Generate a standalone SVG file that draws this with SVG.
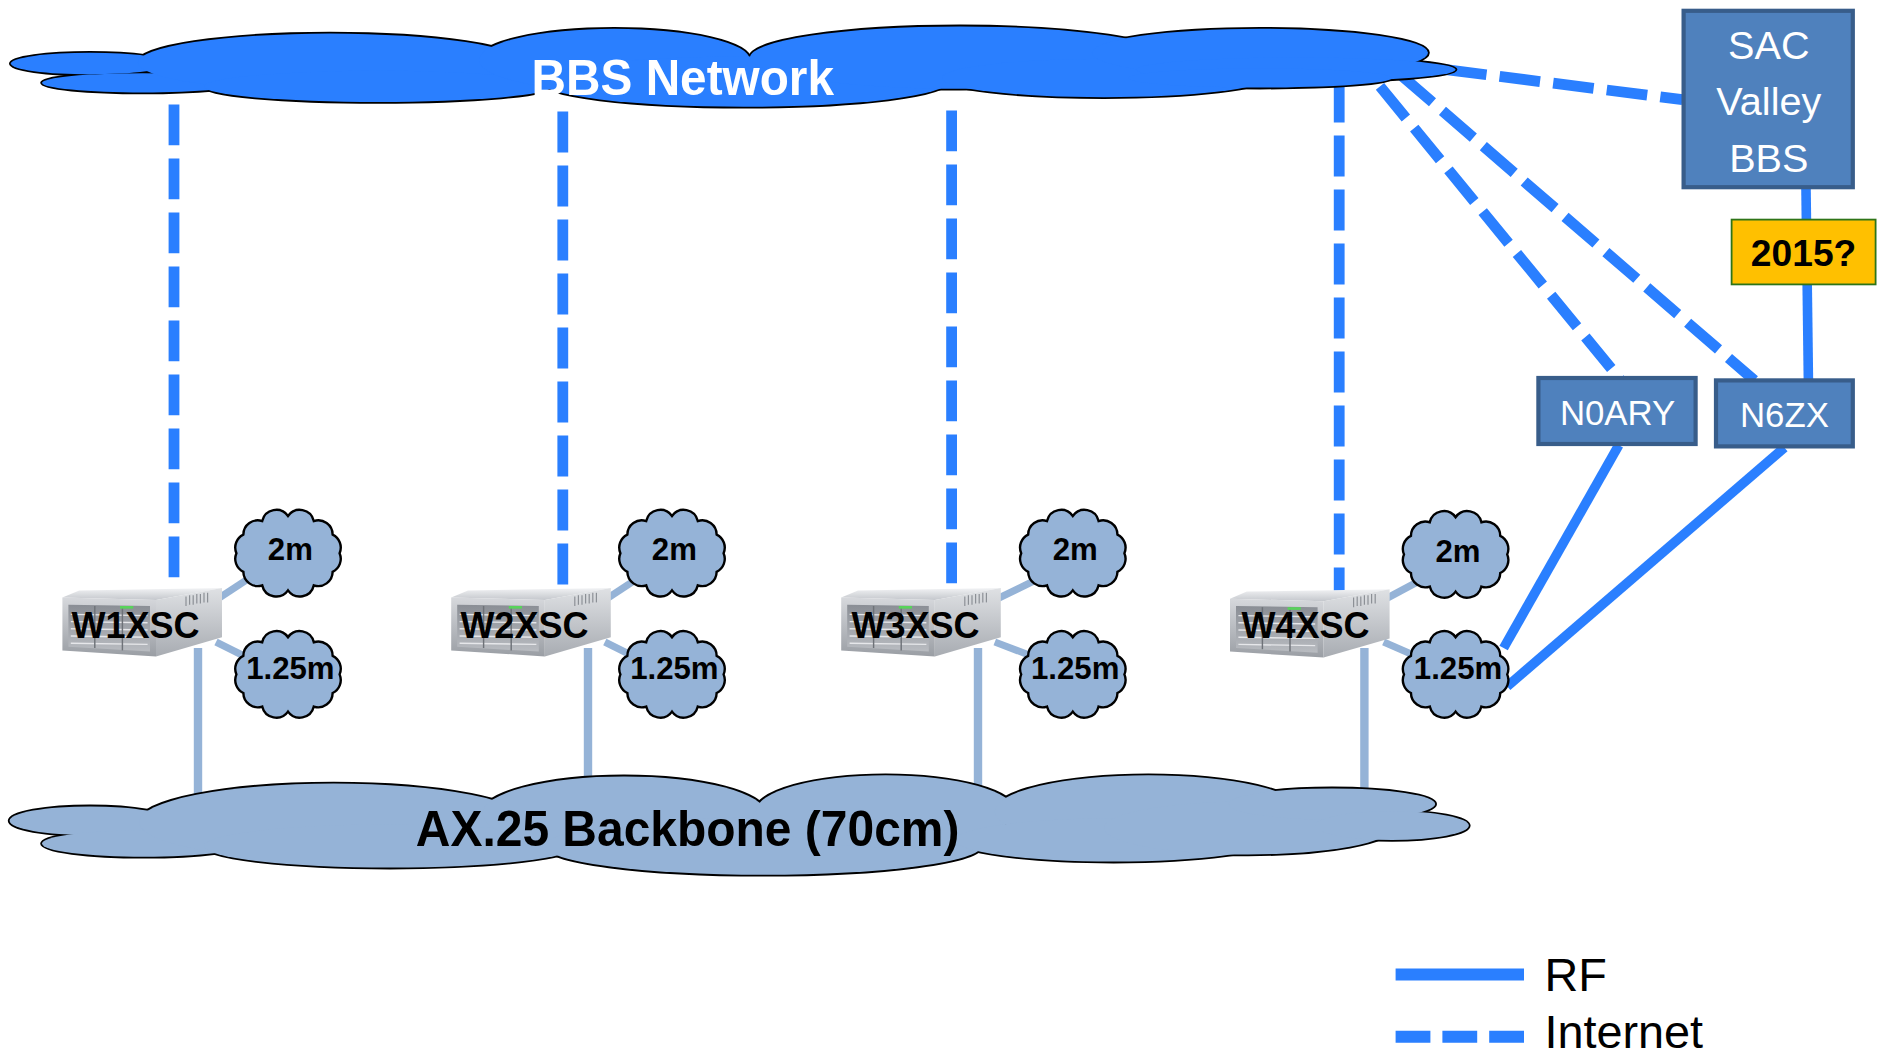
<svg xmlns="http://www.w3.org/2000/svg" xmlns:xlink="http://www.w3.org/1999/xlink" width="1881" height="1054" viewBox="0 0 1881 1054">
<style>
.inet{stroke:#2A7FFF;stroke-width:9;stroke-dasharray:34 11;fill:none}
.rf{stroke:#2A7FFF;stroke-width:8;fill:none}
.lnk{stroke:#95B3D7;stroke-width:6;fill:none}
.vlnk{stroke:#95B3D7;stroke-width:7;fill:none}
.box{fill:#4F81BD;stroke:#385D8A;stroke-width:3.5}
.boxt{font-family:"Liberation Sans",Arial,sans-serif;fill:#fff;text-anchor:middle}
.lbl{font-family:"Liberation Sans",Arial,sans-serif;font-weight:bold;fill:#000;text-anchor:middle}
.sc{fill:#95B3D7;stroke:#000;stroke-width:2}
.leg{font-family:"Liberation Sans",Arial,sans-serif;fill:#000;font-size:39px}
</style>
<defs>
<linearGradient id="gTop" x1="0" y1="0" x2="0" y2="1"><stop offset="0" stop-color="#f2f3f5"/><stop offset="1" stop-color="#c4c7cc"/></linearGradient>
<linearGradient id="gFront" x1="0" y1="0" x2="0" y2="1"><stop offset="0" stop-color="#d6d8dc"/><stop offset="1" stop-color="#9a9ea4"/></linearGradient>
<linearGradient id="gSide" x1="0" y1="0" x2="0" y2="1"><stop offset="0" stop-color="#dfe1e4"/><stop offset="1" stop-color="#a8acb2"/></linearGradient>
<linearGradient id="gBay" x1="0" y1="0" x2="0" y2="1"><stop offset="0" stop-color="#8a8e95"/><stop offset="1" stop-color="#b9bcc1"/></linearGradient>
<g id="server">
<polygon points="0,8 14,2 133,0 78,10" fill="url(#gTop)"/>
<polygon points="0,8 78,10 78,57 0,52" fill="url(#gFront)"/>
<polygon points="78,10 133,0 133,41 78,57" fill="url(#gSide)"/>
<polygon points="5,14 73,15 73,53 5,49" fill="url(#gBay)"/>
<g stroke="#e6e7ea" stroke-width="1.2">
<line x1="7" y1="22" x2="71" y2="23"/><line x1="7" y1="28" x2="71" y2="29"/><line x1="7" y1="34" x2="71" y2="35"/><line x1="7" y1="40" x2="71" y2="41"/><line x1="7" y1="46" x2="71" y2="47"/>
</g>
<g stroke="#6e7278" stroke-width="1.2">
<line x1="27" y1="15" x2="27" y2="50"/><line x1="50" y1="15" x2="50" y2="52"/>
</g>
<rect x="48" y="15" width="11" height="2.2" fill="#58d35a"/>
<g stroke="#8c9096" stroke-width="1">
<line x1="103" y1="7" x2="103" y2="15"/><line x1="106" y1="6" x2="106" y2="14"/><line x1="109" y1="6" x2="109" y2="14"/><line x1="112" y1="5" x2="112" y2="13"/><line x1="115" y1="5" x2="115" y2="13"/><line x1="118" y1="4" x2="118" y2="12"/><line x1="121" y1="4" x2="121" y2="12"/>
</g>
</g>
<path id="cl" d="M43,0 A12,12 0 0 1 37.2,15.5 A12,12 0 0 1 21.5,26.8 A12,12 0 0 1 0,31 A12,12 0 0 1 -21.5,26.8 A12,12 0 0 1 -37.2,15.5 A12,12 0 0 1 -43,0 A12,12 0 0 1 -37.2,-15.5 A12,12 0 0 1 -21.5,-26.8 A12,12 0 0 1 0,-31 A12,12 0 0 1 21.5,-26.8 A12,12 0 0 1 37.2,-15.5 A12,12 0 0 1 43,0 Z"/>
<g id="bbsLobes">
<ellipse cx="75" cy="53" rx="66" ry="9"/>
<ellipse cx="119" cy="69" rx="84" ry="8"/>
<ellipse cx="275" cy="52" rx="160" ry="24"/>
<ellipse cx="315" cy="72" rx="145" ry="13"/>
<ellipse cx="512" cy="50" rx="113" ry="26"/>
<ellipse cx="620" cy="68" rx="170" ry="21"/>
<ellipse cx="800" cy="48" rx="175" ry="26"/>
<ellipse cx="920" cy="65" rx="135" ry="16"/>
<ellipse cx="1050" cy="44" rx="140" ry="20"/>
<ellipse cx="1080" cy="58" rx="133" ry="10"/>
<ellipse cx="1050" cy="65" rx="110" ry="8"/>
</g>
<g id="axLobes">
<ellipse cx="75" cy="684" rx="67" ry="12"/>
<ellipse cx="120" cy="703" rx="85" ry="11"/>
<ellipse cx="278" cy="685" rx="162" ry="32"/>
<ellipse cx="325" cy="705" rx="155" ry="18"/>
<ellipse cx="520" cy="678" rx="118" ry="31"/>
<ellipse cx="636" cy="705" rx="182" ry="24"/>
<ellipse cx="738" cy="676" rx="108" ry="30"/>
<ellipse cx="957" cy="676" rx="128" ry="30"/>
<ellipse cx="928" cy="700" rx="132" ry="18"/>
<ellipse cx="1040" cy="690" rx="120" ry="22"/>
<ellipse cx="1110" cy="670" rx="86" ry="13"/>
<ellipse cx="1160" cy="688" rx="64" ry="12"/>
</g>
</defs>
<rect width="1881" height="1054" fill="#fff"/>
<g transform="scale(1.2)">
<g id="connectors">
<line class="inet" x1="145" y1="87" x2="145" y2="495"/>
<line class="inet" x1="469" y1="93" x2="469" y2="490"/>
<line class="inet" x1="793" y1="92" x2="793" y2="492"/>
<line class="inet" x1="1116" y1="68" x2="1116" y2="495"/>
<line class="inet" x1="1205" y1="58" x2="1402" y2="83"/>
<line class="inet" x1="1150" y1="72" x2="1350" y2="316"/>
<line class="inet" x1="1168" y1="63" x2="1462" y2="317"/>
<line class="rf" x1="1505" y1="157" x2="1507" y2="317"/>
<line class="rf" x1="1349" y1="371" x2="1253" y2="540"/>
<line class="rf" x1="1487" y1="373" x2="1256" y2="572"/>
<g id="links">
<line class="lnk" x1="180" y1="500" x2="206" y2="483"/><line class="lnk" x1="180" y1="535" x2="208" y2="549"/>
<line class="lnk" x1="504" y1="500" x2="530" y2="483"/><line class="lnk" x1="504" y1="535" x2="532" y2="549"/>
<line class="lnk" x1="829" y1="500" x2="864" y2="483"/><line class="lnk" x1="829" y1="535" x2="866" y2="549"/>
<line class="lnk" x1="1153" y1="500" x2="1183" y2="484"/><line class="lnk" x1="1153" y1="535" x2="1185" y2="549"/>
<line class="vlnk" x1="165" y1="540" x2="165" y2="665"/>
<line class="vlnk" x1="490" y1="540" x2="490" y2="665"/>
<line class="vlnk" x1="815" y1="540" x2="815" y2="665"/>
<line class="vlnk" x1="1137" y1="540" x2="1137" y2="665"/>
</g>
</g>
<g id="bbs-network">
<use href="#bbsLobes" fill="#2A7FFF" stroke="#000" stroke-width="3"/>
<use href="#bbsLobes" fill="#2A7FFF" stroke="none"/>
<text x="569" y="79" font-family="Liberation Sans,Arial,sans-serif" font-weight="bold" font-size="42" fill="#fff" text-anchor="middle" textLength="252" lengthAdjust="spacingAndGlyphs">BBS Network</text>
</g>
<g id="ax25-backbone">
<use href="#axLobes" fill="#95B3D7" stroke="#000" stroke-width="3"/>
<use href="#axLobes" fill="#95B3D7" stroke="none"/>
<text x="573" y="705" font-family="Liberation Sans,Arial,sans-serif" font-weight="bold" font-size="41" fill="#000" text-anchor="middle" textLength="453" lengthAdjust="spacingAndGlyphs">AX.25 Backbone (70cm)</text>
</g>
<g id="sac-valley-bbs">
<rect class="box" x="1403" y="9" width="141" height="147"/>
<text class="boxt" font-size="33" x="1474" y="49">SAC</text>
<text class="boxt" font-size="33" x="1474" y="96">Valley</text>
<text class="boxt" font-size="33" x="1474" y="143">BBS</text>
</g>
<g id="note-2015">
<rect x="1443" y="183" width="120" height="54" fill="#FFC000" stroke="#2E7418" stroke-width="1.5"/>
<text class="lbl" font-size="31" x="1503" y="222">2015?</text>
</g>
<g id="n0ary">
<rect class="box" x="1282" y="315" width="131" height="55"/>
<text class="boxt" font-size="29" x="1348" y="354">N0ARY</text>
</g>
<g id="n6zx">
<rect class="box" x="1430" y="317" width="114" height="55"/>
<text class="boxt" font-size="29" x="1487" y="356">N6ZX</text>
</g>
<g id="w1xsc">
<use href="#server" x="52" y="490"/>
<text class="lbl" font-size="30" x="113" y="532">W1XSC</text>
<use href="#cl" class="sc" transform="translate(240,461)"/>
<text class="lbl" font-size="26" x="242" y="467">2m</text>
<use href="#cl" class="sc" transform="translate(240,562)"/>
<text class="lbl" font-size="26" x="242" y="566">1.25m</text>
</g>
<g id="w2xsc">
<use href="#server" x="376" y="490"/>
<text class="lbl" font-size="30" x="437" y="532">W2XSC</text>
<use href="#cl" class="sc" transform="translate(560,461)"/>
<text class="lbl" font-size="26" x="562" y="467">2m</text>
<use href="#cl" class="sc" transform="translate(560,562)"/>
<text class="lbl" font-size="26" x="562" y="566">1.25m</text>
</g>
<g id="w3xsc">
<use href="#server" x="701" y="490"/>
<text class="lbl" font-size="30" x="763" y="532">W3XSC</text>
<use href="#cl" class="sc" transform="translate(894,461)"/>
<text class="lbl" font-size="26" x="896" y="467">2m</text>
<use href="#cl" class="sc" transform="translate(894,562)"/>
<text class="lbl" font-size="26" x="896" y="566">1.25m</text>
</g>
<g id="w4xsc">
<use href="#server" x="1025" y="491"/>
<text class="lbl" font-size="30" x="1088" y="532">W4XSC</text>
<use href="#cl" class="sc" transform="translate(1213,462)"/>
<text class="lbl" font-size="26" x="1215" y="468">2m</text>
<use href="#cl" class="sc" transform="translate(1213,562)"/>
<text class="lbl" font-size="26" x="1215" y="566">1.25m</text>
</g>
<g id="legend">
<line x1="1163" y1="812" x2="1270" y2="812" stroke="#2A7FFF" stroke-width="10"/>
<line x1="1163" y1="864" x2="1270" y2="864" stroke="#2A7FFF" stroke-width="10" stroke-dasharray="29 10"/>
<text class="leg" x="1287" y="826">RF</text>
<text class="leg" x="1287" y="873">Internet</text>
</g>
</g>
</svg>
